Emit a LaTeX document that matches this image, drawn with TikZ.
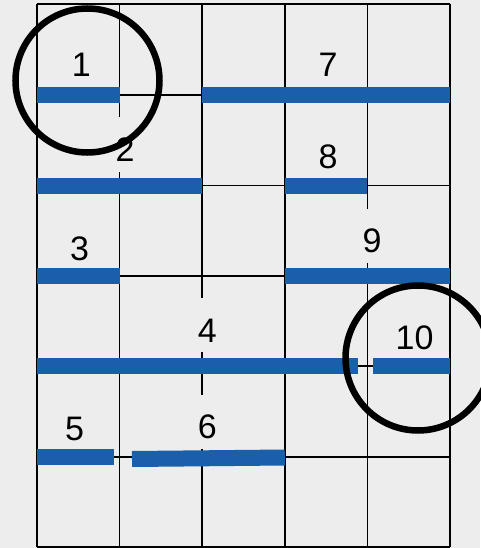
\documentclass[tikz,border=0pt]{standalone}
\usepackage{fontspec}
\setmainfont{Liberation Sans}
\definecolor{bg}{RGB}{237,237,237}
\definecolor{barblue}{RGB}{26,95,170}
\begin{document}
\begin{tikzpicture}[x=1pt,y=-1pt,
  gridline/.style={line width=1.5pt, black},
  bar/.style={line width=16pt, barblue},
  ring/.style={line width=6.5pt, black},
  lbl/.style={fill=bg, font=\fontsize{34}{40}\selectfont, text height=38pt, text depth=4pt, inner xsep=8pt, inner ysep=6pt, anchor=base}]
\fill[bg] (0,0) rectangle (480,548);
\useasboundingbox (0,0) rectangle (480,548);
% grid
\foreach \x in {37,119.6,202.2,284.8,367.4,450} \draw[gridline] (\x,4) -- (\x,547);
\foreach \y in {4,95,185.5,276,366,457,547} \draw[gridline] (37,\y) -- (450,\y);
% labels
\node[lbl] (l1) at (81.3,77) {1};
\node[lbl] (l7) at (328,77) {7};
\node[lbl] (l2) at (125,161.5) {2};
\node[lbl] (l8) at (328,168) {8};
\node[lbl] (l3) at (79.5,260) {3};
\node[lbl] (l9) at (372,252.5) {9};
\node[lbl] (l4) at (207.3,342) {4};
\node[lbl] (l10) at (414.5,349.5) {10};
\node[lbl] (l5) at (74.5,440) {5};
\node[lbl] (l6) at (207.3,438.5) {6};
% bars
\draw[bar] (37,95) -- (119.6,95);
\draw[bar] (202.2,95) -- (450,95);
\draw[bar] (37,185.5) -- (202.2,185.5);
\draw[bar] (284.8,185.5) -- (367.4,185.5);
\draw[bar] (37,276) -- (119.6,276);
\draw[bar] (284.8,276) -- (450,276);
\draw[bar] (37,366) -- (358,366);
\draw[bar] (373,366) -- (450,366);
\draw[bar] (37,457) -- (114,457);
\draw[bar] (132,459) -- (284.8,457.5);
% circles
\draw[ring] (87.5,80.5) circle[radius=72];
\draw[ring] (418,358) circle[radius=72.5];
\end{tikzpicture}
\end{document}
